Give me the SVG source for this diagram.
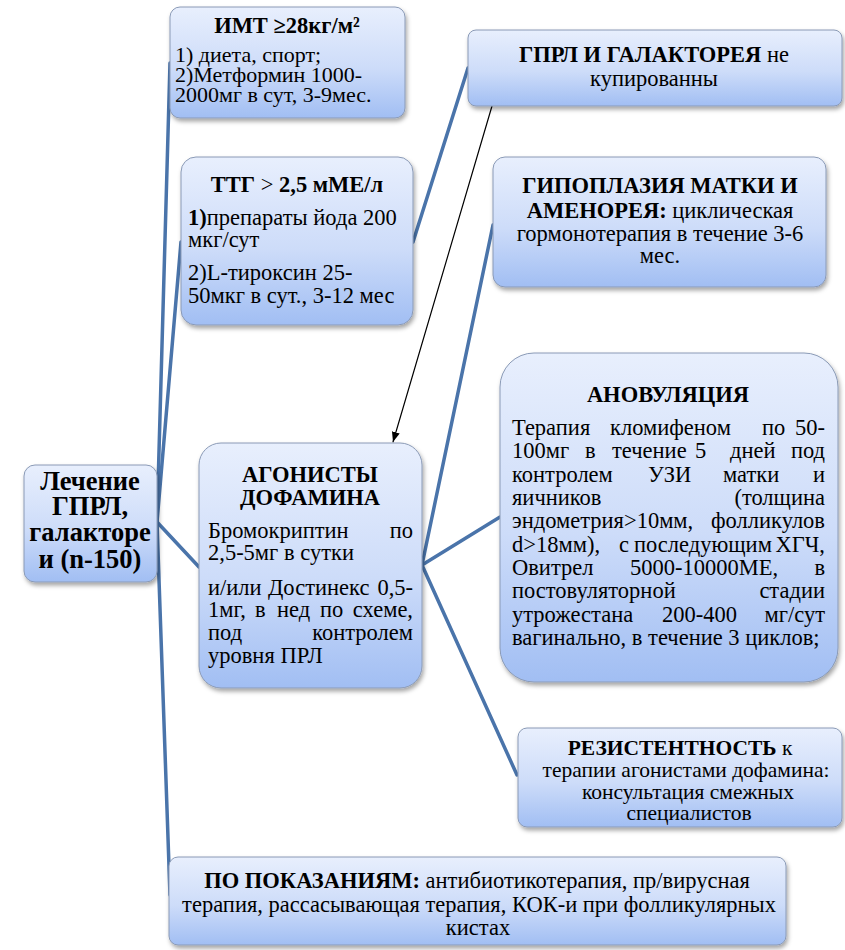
<svg xmlns="http://www.w3.org/2000/svg" width="845" height="950" viewBox="0 0 845 950" font-family="'Liberation Serif', 'Times New Roman', serif">
<defs>
<linearGradient id="g" x1="0" y1="0" x2="0" y2="1">
<stop offset="0" stop-color="#e8effd"/>
<stop offset="0.55" stop-color="#cddcf9"/>
<stop offset="1" stop-color="#a1bef3"/>
</linearGradient>
<filter id="sh" x="-10%" y="-10%" width="125%" height="130%">
<feDropShadow dx="1.5" dy="3" stdDeviation="2" flood-color="#000" flood-opacity="0.35"/>
</filter>
<marker id="ah" viewBox="0 0 10 10" refX="10" refY="5" markerWidth="10" markerHeight="10" markerUnits="userSpaceOnUse" orient="auto">
<path d="M0,1 L10,5 L0,9 z" fill="#000"/>
</marker>
<style>
.box{fill:url(#g);stroke:#8a9ab6;stroke-width:1;filter:url(#sh)}
text{font-family:'Liberation Serif','Times New Roman',serif;fill:#000;font-size:22.5px}
.h{font-weight:bold}
.b{font-weight:bold}
.c{text-anchor:middle}
.e{text-anchor:end}
.r{font-size:26.5px;font-weight:bold;text-anchor:middle}
.m{font-size:22px}
.s{font-size:21.5px}
.con line{stroke:#4a74aa;stroke-width:3.5;stroke-linecap:round}
</style>
</defs>
<rect width="845" height="950" fill="#fff"/>

<g id="connectors" class="con">
<line x1="157" y1="522" x2="170" y2="63"/>
<line x1="157" y1="522" x2="181" y2="242"/>
<line x1="157" y1="522" x2="170" y2="895"/>
<line x1="157" y1="522" x2="199" y2="567"/>
<line x1="413" y1="242" x2="468" y2="68"/>
<line x1="422" y1="565" x2="493" y2="225"/>
<line x1="422" y1="565" x2="500" y2="517"/>
<line x1="422" y1="565" x2="517" y2="775"/>
<line x1="492" y1="106" x2="393" y2="442" style="stroke:#000;stroke-width:1.2" marker-end="url(#ah)"/>
</g>

<g id="n-imt">
<rect class="box" x="170" y="7" width="235" height="111" rx="10"/>
<text class="h c" x="287" y="33">ИМТ ≥28кг/м²</text>
<text class="m" x="175" y="62">1) диета, спорт;</text>
<text class="m" x="175" y="82">2)Метформин 1000-</text>
<text class="m" x="175" y="102">2000мг в сут, 3-9мес.</text>
</g>

<g id="n-ttg">
<rect class="box" x="181" y="157" width="232" height="168" rx="15"/>
<text class="c" x="297" y="192"><tspan class="b">ТТГ</tspan> &gt; <tspan class="b">2,5 мМЕ/л</tspan></text>
<text x="188" y="225"><tspan class="b">1)</tspan>препараты йода 200</text>
<text x="188" y="247">мкг/сут</text>
<text x="188" y="280">2)L-тироксин 25-</text>
<text x="188" y="303">50мкг в сут., 3-12 мес</text>
</g>

<g id="n-gprl">
<rect class="box" x="468" y="30" width="374" height="76" rx="8"/>
<text class="c" x="654" y="62"><tspan class="b">ГПРЛ И ГАЛАКТОРЕЯ</tspan> не</text>
<text class="c" x="654" y="86">купированны</text>
</g>

<g id="n-gipo">
<rect class="box" x="493" y="157" width="333" height="130" rx="12"/>
<text class="c b" x="660" y="193">ГИПОПЛАЗИЯ МАТКИ И</text>
<text class="c" x="660" y="218"><tspan class="b">АМЕНОРЕЯ:</tspan> циклическая</text>
<text class="c" x="660" y="241">гормонотерапия в течение 3-6</text>
<text class="c" x="660" y="263">мес.</text>
</g>

<g id="n-root">
<rect class="box" x="24" y="465" width="133" height="117" rx="11"/>
<text class="r" x="90" y="490">Лечение</text>
<text class="r" x="90" y="515">ГПРЛ,</text>
<text class="r" x="90" y="541">галакторе</text>
<text class="r" x="90" y="568">и (n-150)</text>
</g>

<g id="n-agon">
<rect class="box" x="199" y="443" width="223" height="245" rx="22"/>
<text class="h c" x="310" y="482">АГОНИСТЫ</text>
<text class="h c" x="310" y="505">ДОФАМИНА</text>
<text x="208" y="538">Бромокриптин</text>
<text class="e" x="413" y="538">по</text>
<text x="208" y="560">2,5-5мг в сутки</text>
<text x="208" y="595">и/или</text>
<text x="268" y="595">Достинекс</text>
<text class="e" x="413" y="595">0,5-</text>
<text x="208" y="617">1мг,</text>
<text x="255" y="617">в</text>
<text x="277" y="617">нед</text>
<text x="320" y="617">по</text>
<text class="e" x="413" y="617">схеме,</text>
<text x="208" y="640">под</text>
<text class="e" x="413" y="640">контролем</text>
<text x="208" y="663">уровня ПРЛ</text>
</g>

<g id="n-anov">
<rect class="box" x="500" y="353" width="338" height="329" rx="34"/>
<text class="h c" x="668" y="402">АНОВУЛЯЦИЯ</text>
<text x="512" y="435">Терапия</text>
<text x="610" y="435">кломифеном</text>
<text x="762" y="435">по</text>
<text class="e" x="825" y="435">50-</text>
<text x="512" y="458">100мг</text>
<text x="585" y="458">в</text>
<text x="612" y="458">течение</text>
<text x="695" y="458">5</text>
<text x="730" y="458">дней</text>
<text class="e" x="825" y="458">под</text>
<text x="512" y="482">контролем</text>
<text x="648" y="482">УЗИ</text>
<text x="723" y="482">матки</text>
<text class="e" x="825" y="482">и</text>
<text x="512" y="505">яичников</text>
<text class="e" x="825" y="505">(толщина</text>
<text x="512" y="528">эндометрия&gt;10мм,</text>
<text class="e" x="825" y="528">фолликулов</text>
<text x="512" y="552">d&gt;18мм),</text>
<text x="619" y="552">с</text>
<text x="634" y="552">последующим</text>
<text class="e" x="825" y="552">ХГЧ,</text>
<text x="512" y="575">Овитрел</text>
<text x="630" y="575">5000-10000МЕ,</text>
<text class="e" x="825" y="575">в</text>
<text x="512" y="598">постовуляторной</text>
<text class="e" x="825" y="598">стадии</text>
<text x="512" y="622">утрожестана</text>
<text x="662" y="622">200-400</text>
<text class="e" x="825" y="622">мг/сут</text>
<text x="512" y="645">вагинально, в течение 3 циклов;</text>
</g>

<g id="n-rez">
<rect class="box" x="518" y="728" width="324" height="99" rx="9"/>
<text class="c s" x="680" y="755"><tspan class="b">РЕЗИСТЕНТНОСТЬ</tspan> к</text>
<text class="c s" x="686" y="777">терапии агонистами дофамина:</text>
<text class="c s" x="688" y="799">консультация смежных</text>
<text class="c s" x="689" y="820">специалистов</text>
</g>

<g id="n-po">
<rect class="box" x="169" y="857" width="617" height="88" rx="9"/>
<text class="c" x="477" y="888"><tspan class="b">ПО ПОКАЗАНИЯМ:</tspan> антибиотикотерапия, пр/вирусная</text>
<text class="c" x="479" y="912">терапия, рассасывающая терапия, КОК-и при фолликулярных</text>
<text class="c" x="478" y="935">кистах</text>
</g>
</svg>
